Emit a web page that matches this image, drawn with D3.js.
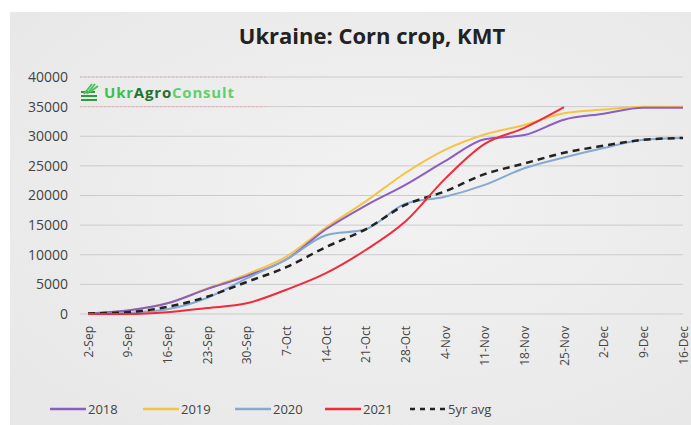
<!DOCTYPE html>
<html><head><meta charset="utf-8">
<script src="https://cdn.jsdelivr.net/npm/d3@7"></script>
<style>html,body{margin:0;padding:0;background:#fff;}svg{display:block;}</style>
</head><body>
<script>
const categories = ["2-Sep","9-Sep","16-Sep","23-Sep","30-Sep","7-Oct","14-Oct","21-Oct","28-Oct","4-Nov","11-Nov","18-Nov","25-Nov","2-Dec","9-Dec","16-Dec"];
const s2018 = [100, 600, 1800, 4200, 6400, 9200, 14300, 18300, 21800, 25800, 29500, 30200, 32800, 33800, 34800, 34800];
const s2019 = [100, 600, 1800, 4300, 6700, 9700, 14600, 19000, 23800, 27700, 30300, 31900, 33900, 34500, 35000, 35000];
const s2020 = [0, 200, 800, 2700, 6000, 9200, 13300, 14300, 18600, 19800, 21800, 24600, 26400, 28000, 29400, 29700];
const s2021 = [0, 0, 300, 1000, 1800, 4100, 6900, 10800, 15600, 22800, 28700, 31400, 34900, null, null, null];
const s5yr  = [100, 300, 1200, 2900, 5400, 7900, 11300, 14300, 18400, 20700, 23600, 25400, 27200, 28400, 29400, 29700];
const yTicks = [0, 5000, 10000, 15000, 20000, 25000, 30000, 35000, 40000];
const seriesNames = ["2018","2019","2020","2021","5yr avg"];

const W = 691, H = 425;
const svg = d3.select("body").append("svg").attr("width", W).attr("height", H);
const defs = svg.append("defs");
const grad = defs.append("radialGradient").attr("id","bg").attr("cx","55%").attr("cy","45%").attr("r","70%");
grad.append("stop").attr("offset","0%").attr("stop-color","#f2f2f2");
grad.append("stop").attr("offset","100%").attr("stop-color","#e8e8e8");
svg.append("rect").attr("x",10).attr("y",12).attr("width",W-10).attr("height",H-12).attr("fill","url(#bg)");

svg.append("text").attr("x", 372).attr("y", 44).attr("text-anchor","middle")
  .attr("font-family","'Open Sans', sans-serif").attr("font-weight","bold").attr("font-size",22)
  .attr("fill","#222").text("Ukraine: Corn crop, KMT");

const x = d3.scalePoint().domain(categories).range([88, 683]);
const y = d3.scaleLinear().domain([0, 40000]).range([314, 77]);

// gridlines
svg.append("g").selectAll("line").data(yTicks).join("line")
  .attr("x1", 80).attr("x2", 683).attr("y1", d => y(d)).attr("y2", d => y(d))
  .attr("stroke", "#cbcbcb").attr("stroke-width", 1);

const yAxis = svg.append("g").attr("transform","translate(80,0)")
  .call(d3.axisLeft(y).tickValues(yTicks).tickSize(0).tickPadding(12).tickFormat(d3.format("d")));
yAxis.select(".domain").remove();
yAxis.selectAll("text").attr("font-family","'Open Sans', sans-serif").attr("font-size",14).attr("fill","#444");

const xAxis = svg.append("g").attr("transform","translate(0,314)")
  .call(d3.axisBottom(x).tickSize(0).tickPadding(0));
xAxis.select(".domain").remove();
xAxis.selectAll("text")
  .attr("font-family","'Open Sans', sans-serif").attr("font-size",12).attr("fill","#444")
  .attr("transform","rotate(-90)").attr("text-anchor","end").attr("dy","0.35em").attr("x",-12).attr("y",0);

// logo
const logo = svg.append("g");
logo.append("line").attr("x1",80).attr("x2",265).attr("y1",y(40000)).attr("y2",y(40000)).attr("stroke","#e8b0b0").attr("stroke-dasharray","2,2");
logo.append("line").attr("x1",80).attr("x2",265).attr("y1",y(35000)).attr("y2",y(35000)).attr("stroke","#e8b0b0").attr("stroke-dasharray","2,2");
const ic = logo.append("g").attr("stroke","#2e9b3e").attr("stroke-width",2).attr("fill","none");
[[81,100,97,100],[81,96,97,96],[81,92,95,92]].forEach(a=>ic.append("line").attr("x1",a[0]).attr("y1",a[1]).attr("x2",a[2]).attr("y2",a[3]));
[[84,94,92,84],[87,94,95,84],[90,92,98,86]].forEach(a=>ic.append("line").attr("x1",a[0]).attr("y1",a[1]).attr("x2",a[2]).attr("y2",a[3]).attr("stroke","#4cc45a"));
const lt = logo.append("text").attr("x",104).attr("y",98).attr("font-family","'Open Sans', sans-serif").attr("font-weight","bold").attr("font-size",15).attr("letter-spacing",0.8);
lt.append("tspan").attr("fill","#3cbf4e").text("Ukr");
lt.append("tspan").attr("fill","#24702e").text("Agro");
lt.append("tspan").attr("fill","#5fd06b").text("Consult");

const series = [
  {name:"2018", data:s2018, color:"#8a5ec4", dash:null},
  {name:"2019", data:s2019, color:"#f4c445", dash:null},
  {name:"2020", data:s2020, color:"#84a9d2", dash:null},
  {name:"2021", data:s2021, color:"#ef2b3c", dash:null},
  {name:"5yr avg", data:s5yr, color:"#222", dash:"7,5"}
];
const line = d3.line().defined(d => d[1] != null).x(d => x(d[0])).y(d => y(d[1])).curve(d3.curveMonotoneX);
const order = [series[1], series[0], series[2], series[4], series[3]];
svg.append("g").selectAll("path").data(order).join("path")
  .attr("d", s => line(categories.map((c,i)=>[c, s.data[i]])))
  .attr("fill","none").attr("stroke", s => s.color).attr("stroke-width", s => s.dash ? 2.5 : 2)
  .attr("stroke-dasharray", s => s.dash);

// legend
const legX = [50, 143, 235, 325, 410];
const leg = svg.append("g").selectAll("g").data(series).join("g")
  .attr("transform", (s,i) => `translate(${legX[i]},409)`);
leg.append("line").attr("x1",0).attr("x2",36).attr("y1",0).attr("y2",0)
  .attr("stroke", s => s.color).attr("stroke-width", 2.5).attr("stroke-dasharray", s => s.dash ? "5,5" : null);
leg.append("text").attr("x",38).attr("y",0).attr("dy","0.35em")
  .attr("font-family","'Open Sans', sans-serif").attr("font-size",13).attr("fill","#444").text(s => s.name);
</script>
</body></html>
